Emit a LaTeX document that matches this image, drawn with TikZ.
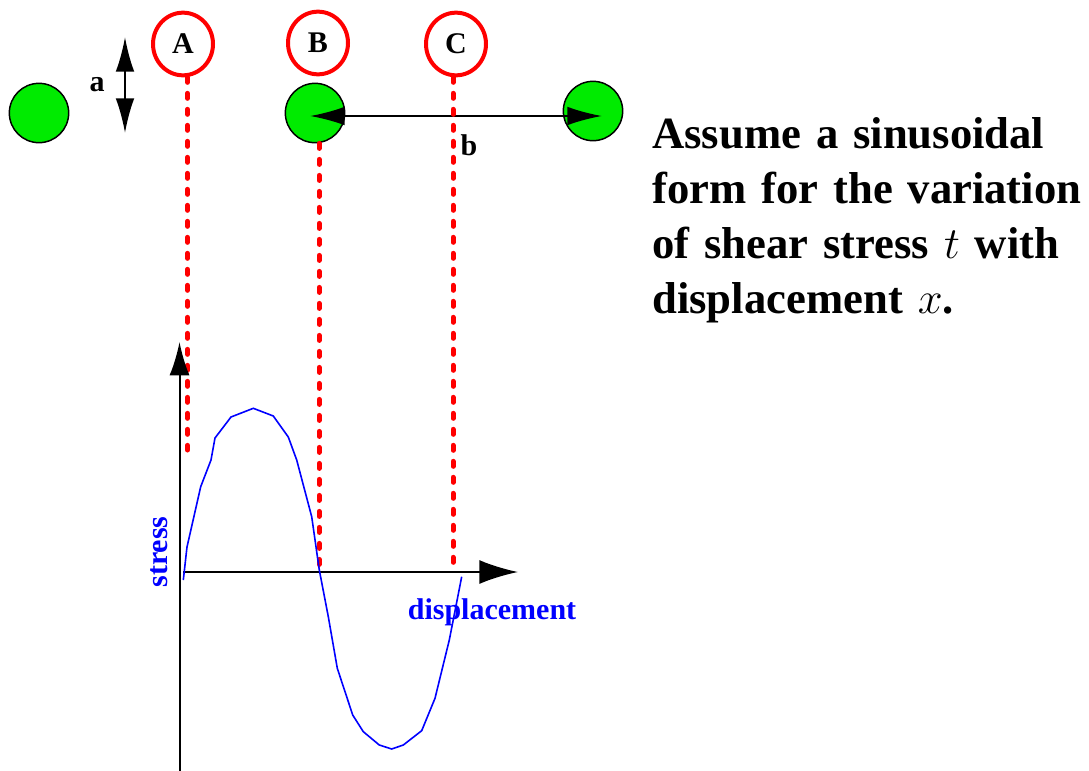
\RequirePackage{fix-cm}
\documentclass[tikz,border=0pt]{standalone}
\usepackage{fontspec}
\setmainfont{Liberation Serif}
\usetikzlibrary{arrows.meta,shapes.geometric}
\definecolor{ballgreen}{RGB}{0,235,0}

\begin{document}
\begin{tikzpicture}[x=0.75pt, y=-0.75pt,
  lbl/.style={font=\fontsize{22.5pt}{26pt}\selectfont\bfseries},
  ball/.style={circle, draw, line width=1.1pt, fill=ballgreen, minimum size=44.5pt, inner sep=0pt},
  ring/.style={ellipse, draw=red, line width=3pt, minimum width=45pt, minimum height=47pt, inner sep=0pt, lbl},
  redline/.style={red, line width=3.75pt, dash pattern=on 3.75pt off 8.25pt, line cap=round},
  dimarrow/.style={line width=1.5pt, {Latex[length=26pt,width=14pt]}-{Latex[length=26pt,width=14pt]}},
  axis/.style={line width=1.5pt}]
  \useasboundingbox (0,0) rectangle (1089,771);
  % balls and points
  \node[ball] (g1) at (39,113) {};
  \node[ball] (g2) at (315,113) {};
  \node[ball] (g3) at (593,111) {};
  \node[ring] (A) at (183,44) {A};
  \node[ring] (B) at (318,43) {B};
  \node[ring] (C) at (456,44) {C};
  % a and b
  \coordinate (aT) at (125,37);
  \coordinate (aB) at (125,133);
  \draw[dimarrow] (aT) -- (aB);
  \node[lbl] (la) at (97,85) {a};
  \coordinate (bL) at (310,116);
  \coordinate (bR) at (602,116);
  \draw[dimarrow] (bL) -- (bR);
  \node[lbl] (lb) at (469,145) {b};
  % dotted lines down to the graph
  \coordinate (endA) at (187.5,450);
  \coordinate (endB) at (319,570);
  \coordinate (endC) at (453,570);
  \draw[redline] (endA |- A.south) -- (endA);
  \draw[redline] (endB |- g2.south) -- (endB);
  \draw[redline] (endC |- C.south) -- (endC);
  % axes
  \coordinate (yBot) at (179.5,771);
  \coordinate (yTop) at (179.5,342);
  \coordinate (O) at (183,572);
  \coordinate (xEnd) at (518,572);
  \draw[axis, -{Latex[length=25pt,width=15pt]}] (yBot) -- (yTop);
  \draw[axis, -{Latex[length=29pt,width=18pt]}] (O) -- (xEnd);
  % sine curve
  \draw[blue, line width=1.2pt] plot coordinates {
    (183.3,580) (187,547) (200.7,486.7) (211,460) (215,438) (231,417)
    (253.3,408.3) (273.3,416) (288.3,437) (296.7,460) (311.7,516.7)
    (319.3,570) (328.3,616.7) (337.3,668.3) (352.7,715) (363.3,731.7)
    (379.3,745) (391.7,749) (403.3,745) (421.7,730.7) (435,698.3)
    (449.3,640) (461.7,576.7)};
  \node[lbl, blue, rotate=90] (ystr) at (159,552) {stress};
  \node[lbl, blue] (xdis) at (492,612) {displacement};
  % text
  \node[anchor=base west, inner sep=0pt, text width=360pt, align=left,
    font=\fontsize{33.5pt}{41.25pt}\selectfont\bfseries] (note) at (652,148)
    {Assume a sinusoidal\\ form for the variation\\ of shear stress $t$ with\\ displacement $x$.};
\end{tikzpicture}
\end{document}
